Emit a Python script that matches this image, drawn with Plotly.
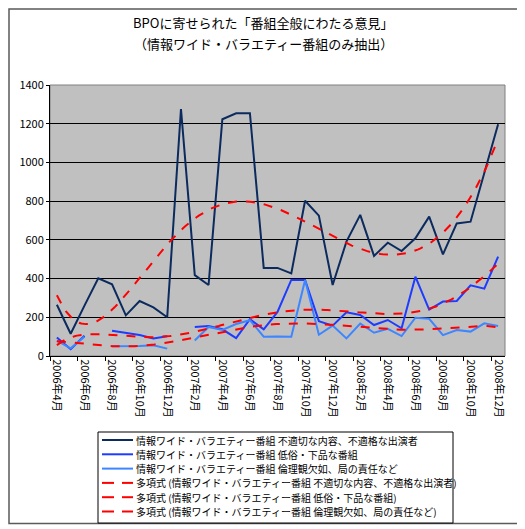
import numpy as np
import plotly.graph_objects as go

months = ["2006年4月", "2006年5月", "2006年6月", "2006年7月", "2006年8月", "2006年9月",
          "2006年10月", "2006年11月", "2006年12月", "2007年1月", "2007年2月", "2007年3月",
          "2007年4月", "2007年5月", "2007年6月", "2007年7月", "2007年8月", "2007年9月",
          "2007年10月", "2007年11月", "2007年12月", "2008年1月", "2008年2月", "2008年3月",
          "2008年4月", "2008年5月", "2008年6月", "2008年7月", "2008年8月", "2008年9月",
          "2008年10月", "2008年11月", "2008年12月"]

inappropriate = [265, 115, 260, 401, 370, 210, 284, 251, 200, 1276, 418, 367, 1223, 1254, 1254,
                 455, 455, 427, 802, 725, 367, 591, 729, 517, 585, 542, 608, 720, 525, 685, 694,
                 945, 1197]
vulgar = [95, 35, 105, None, 130, 118, 108, 90, 102, None, 150, 155, 138, 92, 190, 138, 228,
          393, 393, 180, 157, 226, 212, 160, 186, 143, 410, 240, 281, 284, 365, 348, 513]
ethics = [80, 40, 100, None, 50, 50, 52, 55, 38, None, 80, 150, 135, 165, 185, 100, 101, 100,
          393, 110, 157, 91, 168, 120, 140, 103, 198, 192, 108, 134, 126, 169, 155]

names = ["情報ワイド・バラエティー番組 不適切な内容、不適格な出演者",
         "情報ワイド・バラエティー番組 低俗・下品な番組",
         "情報ワイド・バラエティー番組 倫理観欠如、局の責任など"]
trend_names = ["多項式 (" + n + ")" for n in names]
colors = ["#0B2A5E", "#1E3CFF", "#3D86FF"]
series = [inappropriate, vulgar, ethics]
title_lines = ["BPOに寄せられた「番組全般にわたる意見」", "（情報ワイド・バラエティー番組のみ抽出）"]

tick_idx = list(range(0, len(months), 2))
FONT = "Noto Sans CJK JP"
RED = "#FF0000"

fig = go.Figure()
xs = list(range(len(months)))
for name, vals, col in zip(names, series, colors):
    fig.add_trace(go.Scatter(x=xs, y=vals, mode="lines", name=name,
                             line=dict(color=col, width=2), connectgaps=False))

ORDER = 6
for tname, vals in zip(trend_names, series):
    xv = np.array([i + 1 for i, v in enumerate(vals) if v is not None], dtype=float)
    yv = np.array([v for v in vals if v is not None], dtype=float)
    coef = np.polyfit(xv, yv, ORDER)
    xf = np.linspace(1, len(months), 200)
    yf = np.polyval(coef, xf)
    fig.add_trace(go.Scatter(x=xf - 1, y=yf, mode="lines", name=tname,
                             line=dict(color=RED, width=2, dash="dash")))

# page body has an 8px default margin: shift everything by 8px
OFF = 8
W, H = 525 - OFF, 529 - OFF
L, R, T, B = 50 - OFF, 505 - OFF, 85 - OFF, 356 - OFF
pw, ph = R - L, B - T

def px_x(p):  # reference page pixel -> paper x
    return (p - OFF - L) / pw

def px_y(p):  # reference page pixel -> paper y
    return (B - (p - OFF)) / ph

boundary_ticks = [i - 0.5 for i in range(0, len(months) + 1, 2)]

shapes = [
    dict(type="rect", xref="paper", yref="paper", x0=0, x1=1, y0=0, y1=1,
         line=dict(color="#808080", width=1), layer="below"),
    dict(type="rect", xref="paper", yref="paper",
         x0=px_x(9), x1=px_x(519.5), y0=px_y(523.5), y1=px_y(9),
         line=dict(color="#5A5A5A", width=1.5), fillcolor="rgba(0,0,0,0)"),
    # legend box
    dict(type="rect", xref="paper", yref="paper",
         x0=px_x(98), x1=px_x(453), y0=px_y(523), y1=px_y(432),
         line=dict(color="black", width=1), fillcolor="white"),
]
annotations = []
# title
for k, (txt, yc) in enumerate(zip(title_lines, [22, 43])):
    annotations.append(dict(text=txt, xref="paper", yref="paper", x=px_x(263), y=px_y(yc),
                            xanchor="center", yanchor="middle", showarrow=False,
                            font=dict(family=FONT, size=13, color="black")))
# manual legend
leg_labels = names + trend_names
leg_y = [440, 454.3, 468.6, 482.9, 497.2, 511.5]
for k, (lab, yc) in enumerate(zip(leg_labels, leg_y)):
    if k < 3:
        shapes.append(dict(type="line", xref="paper", yref="paper",
                           x0=px_x(102), x1=px_x(133), y0=px_y(yc), y1=px_y(yc),
                           line=dict(color=colors[k], width=2)))
    else:
        for a, b in [(102, 114), (122, 133)]:
            shapes.append(dict(type="line", xref="paper", yref="paper",
                               x0=px_x(a), x1=px_x(b), y0=px_y(yc), y1=px_y(yc),
                               line=dict(color=RED, width=2)))
    annotations.append(dict(text=lab, xref="paper", yref="paper", x=px_x(134), y=px_y(yc),
                            xanchor="left", yanchor="middle", showarrow=False,
                            font=dict(family=FONT, size=10, color="black")))

fig.update_layout(
    width=W, height=H,
    margin=dict(l=L, r=W - R, t=T, b=H - B, autoexpand=False),
    paper_bgcolor="white",
    plot_bgcolor="#C0C0C0",
    font=dict(family=FONT, size=11, color="black"),
    xaxis=dict(range=[-0.5, len(months) - 0.5], tickmode="array", tickvals=tick_idx,
               ticktext=[months[i] for i in tick_idx], tickangle=90, ticks="",
               showgrid=False, zeroline=False, showline=True, linecolor="black", linewidth=1,
               automargin=False, tickfont=dict(family=FONT, size=11)),
    xaxis2=dict(range=[-0.5, len(months) - 0.5], overlaying="x", side="bottom",
                tickmode="array", tickvals=boundary_ticks, ticktext=[""] * len(boundary_ticks),
                ticks="outside", ticklen=4, tickcolor="black", showgrid=False,
                zeroline=False, showline=False, automargin=False),
    yaxis=dict(range=[0, 1400], dtick=200, showgrid=True, gridcolor="black", gridwidth=1,
               zeroline=False, showline=True, linecolor="black", linewidth=1,
               ticks="outside", ticklen=3, tickcolor="black", automargin=False,
               tickfont=dict(family=FONT, size=11)),
    showlegend=False,
    shapes=shapes,
    annotations=annotations,
)
# invisible trace that activates the boundary tick marks of xaxis2
fig.add_trace(go.Scatter(x=[0], y=[None], xaxis="x2", showlegend=False, hoverinfo="skip"))

fig.write_html("out.html")
